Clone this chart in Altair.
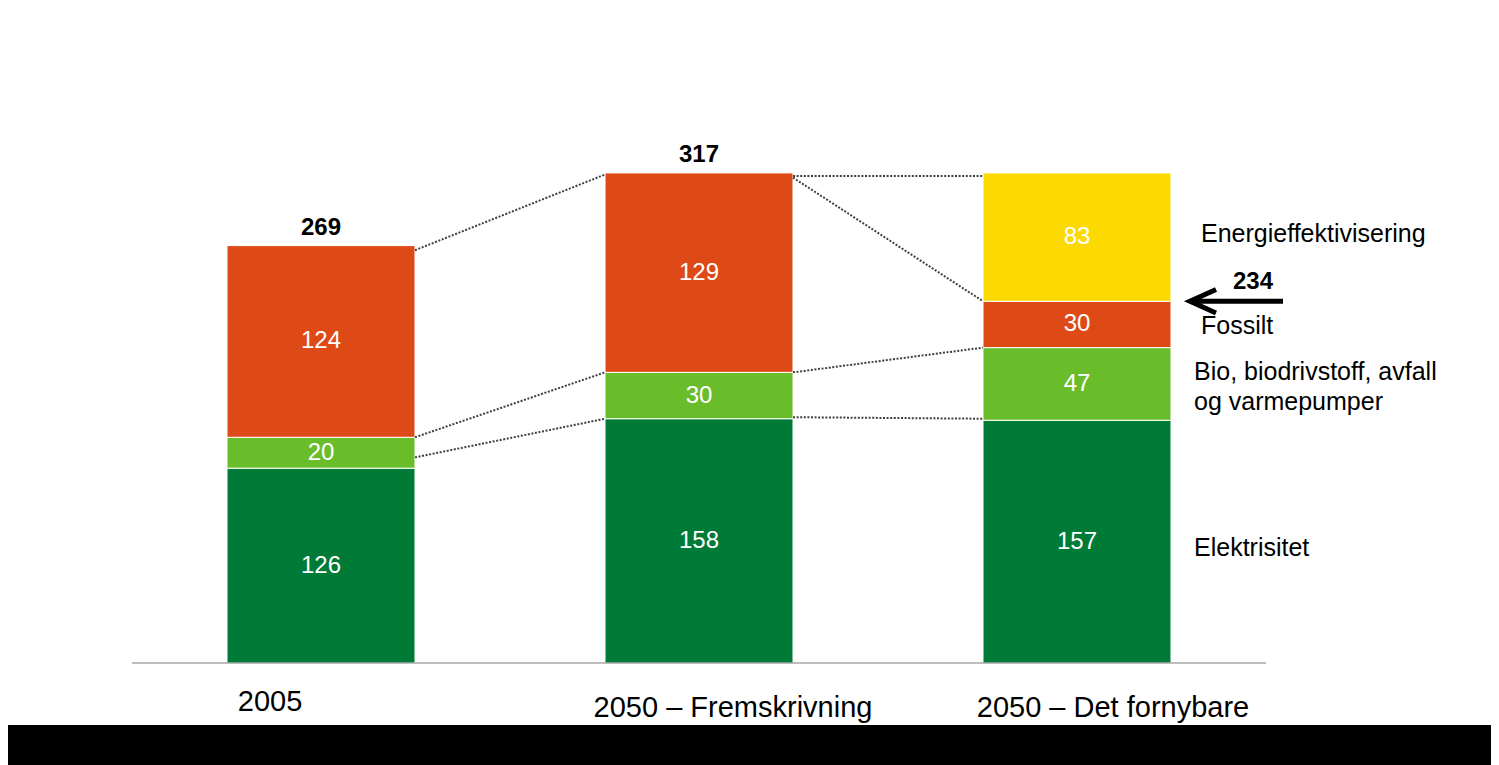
import altair as alt
import pandas as pd

# ---------------- data ----------------
categories = ["2005", "2050 – Fremskrivning", "2050 – Det fornybare"]
segments = ["Elektrisitet", "Bio", "Fossilt", "Energieffektivisering"]
elektrisitet = [126, 158, 157]
bio = [20, 30, 47]
fossilt = [124, 129, 30]
energieffektivisering = [0, 0, 83]
total_labels = ["269", "317", ""]
new_total = 234
legend_texts = ["Elektrisitet", "Bio, biodrivstoff, avfall\nog varmepumper", "Fossilt", "Energieffektivisering"]

# dotted connectors: (from bar, value at its right edge, value at next bar's left edge)
conn_from = [0, 0, 0, 1, 1, 1, 1]
conn_v0 = [267, 146, 133, 315, 314, 188, 159]
conn_v1 = [316, 188, 158, 315, 234, 204, 158]

colors = ["#007A37", "#6ABD2A", "#DE4A16", "#FCD900"]

# ---------------- layout ----------------
W, H = 1483, 717
STEP = 378.0          # px between bar centres
FIRST = 313.0         # px of first bar centre
HW = 94.0 / STEP      # half bar width in x units
PXU = 1.546           # px per value unit
ZERO = 655.0          # px of value 0
FONT = "Liberation Sans"

xs = alt.Scale(domain=[-FIRST / STEP, (W - FIRST) / STEP], nice=False, zero=False)
ys = alt.Scale(domain=[-(H - ZERO) / PXU, ZERO / PXU], nice=False, zero=False)


def X(f):
    return alt.X(f, type="quantitative", scale=xs, axis=None)


def Y(f):
    return alt.Y(f, type="quantitative", scale=ys, axis=None)


series = [elektrisitet, bio, fossilt, energieffektivisering]
rows = []
tops = []
for i, c in enumerate(categories):
    cum = 0
    for s, vals in zip(segments, series):
        v = vals[i]
        if v > 0:
            rows.append(dict(idx=i, x0=i - HW, x1=i + HW, y0=cum, y1=cum + v,
                             mid=cum + v / 2, seg=s, label=str(v)))
            cum += v
    tops.append(cum)
seg_df = pd.DataFrame(rows)

bars = alt.Chart(seg_df).mark_rect(stroke="white", strokeWidth=1).encode(
    x=X("x0"), x2="x1", y=Y("y0"), y2="y1",
    color=alt.Color("seg:N", scale=alt.Scale(domain=segments, range=colors), legend=None),
)

seg_text = alt.Chart(seg_df).mark_text(
    color="white", font=FONT, fontSize=24, baseline="middle", align="center"
).encode(x=X("idx"), y=Y("mid"), text="label:N")

tot_df = pd.DataFrame(dict(idx=list(range(3)), top=tops, label=total_labels))
tot_df = tot_df[tot_df.label != ""]
tot_text = alt.Chart(tot_df).mark_text(
    color="black", font=FONT, fontSize=24, fontWeight="bold", baseline="alphabetic",
    align="center", dy=-11,
).encode(x=X("idx"), y=Y("top"), text="label:N")

conn_df = pd.DataFrame(dict(
    xa=[b + HW for b in conn_from], xb=[b + 1 - HW for b in conn_from],
    ya=conn_v0, yb=conn_v1,
))
connectors = alt.Chart(conn_df).mark_rule(
    color="#3f3f3f", strokeWidth=2, strokeDash=[2, 1.6]
).encode(x=X("xa"), x2="xb", y=Y("ya"), y2="yb")

axis_df = pd.DataFrame(dict(xa=[-0.5], xb=[len(categories) - 0.5], y=[0]))
axis_line = alt.Chart(axis_df).mark_rule(color="#7f7f7f", strokeWidth=1.2).encode(
    x=X("xa"), x2="xb", y=Y("y"))

# category labels (pixel offsets from bar centre / baseline below zero)
cat_dx = [-51, 34, 36]
cat_dy = [48, 54, 54]
cat_df = pd.DataFrame(dict(
    x=[i + d / STEP for i, d in enumerate(cat_dx)],
    y=[-d / PXU for d in cat_dy],
    label=categories,
))
cat_text = alt.Chart(cat_df).mark_text(
    color="black", font=FONT, fontSize=29, baseline="alphabetic", align="center"
).encode(x=X("x"), y=Y("y"), text="label:N")

# right-hand labels beside the last bar
last = seg_df[seg_df.idx == 2].set_index("seg")
leg_dx = [117, 117, 124, 124]
leg_dy = [14, -4, 10, 5]
leg_df = pd.DataFrame(dict(
    x=[2 + d / STEP for d in leg_dx],
    y=[last.loc[s, "mid"] - d / PXU for s, d in zip(segments, leg_dy)],
    label=legend_texts,
))
leg_text = alt.Chart(leg_df).mark_text(
    color="black", font=FONT, fontSize=25, baseline="alphabetic", align="left",
    lineBreak="\n", lineHeight=30,
).encode(x=X("x"), y=Y("y"), text="label:N")

# new total with arrow
nt_df = pd.DataFrame(dict(x=[2 + 176 / STEP], y=[new_total], label=[str(new_total)]))
nt_text = alt.Chart(nt_df).mark_text(
    color="black", font=FONT, fontSize=24, fontWeight="bold", baseline="alphabetic",
    align="center", dy=-12,
).encode(x=X("x"), y=Y("y"), text="label:N")

arrow_df = pd.DataFrame(dict(xa=[2 + 115 / STEP], xb=[2 + 206 / STEP], y=[new_total]))
shaft = alt.Chart(arrow_df).mark_rule(color="black", strokeWidth=5).encode(
    x=X("xa"), x2="xb", y=Y("y"))
head_df = pd.DataFrame(dict(x=[2 + 126 / STEP], y=[new_total]))
head = alt.Chart(head_df).mark_point(
    shape="M 1 -0.9 L -1 0 L 1 0.9", filled=False, size=676, strokeWidth=5,
    color="black", opacity=1, strokeJoin="miter",
).encode(x=X("x"), y=Y("y"))

chart = alt.layer(
    bars, connectors, axis_line, seg_text, tot_text, cat_text, leg_text, nt_text, shaft, head
).properties(
    width=W, height=H, background="black",
    padding={"left": 0, "top": 0, "right": 0, "bottom": 40},
    autosize=alt.AutoSizeParams(type="none"),
).configure_view(fill="white", stroke=None)

chart.save("out.html", embed_options={"renderer": "svg", "actions": False})
